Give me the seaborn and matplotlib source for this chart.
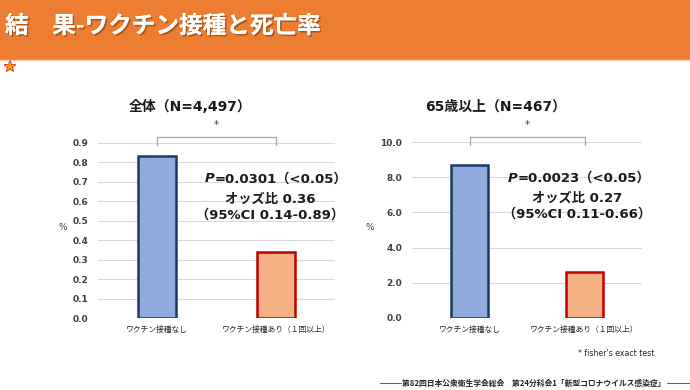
import matplotlib.pyplot as plt
import matplotlib.patheffects as pe
from matplotlib.patches import Rectangle
from matplotlib.lines import Line2D
import pandas as pd
import seaborn as sns

sns.set_style('white')
plt.rcParams['font.family'] = ['Noto Sans CJK JP', 'DejaVu Sans']
latin_first = ['DejaVu Sans', 'Noto Sans CJK JP']

# datos
cats = ['ワクチン接種なし', 'ワクチン接種あり（１回以上）']
rate_all = [0.83, 0.34]
rate_65 = [8.7, 2.6]
ticks_all = [0.0, 0.1, 0.2, 0.3, 0.4, 0.5, 0.6, 0.7, 0.8, 0.9]
ticks_65 = [0.0, 2.0, 4.0, 6.0, 8.0, 10.0]
titles = ['全体（N=4,497）', '65歳以上（N=467）']
p_txt = ['=0.0301（<0.05）', '=0.0023（<0.05）']
or_txt = ['オッズ比 0.36', 'オッズ比 0.27']
ci_txt = ['（95%CI 0.14-0.89）', '（95%CI 0.11-0.66）']

fill = ['#8FAADC', '#F4B183']
edge = ['#1F3864', '#C00000']

fig = plt.figure(figsize=(6.9, 3.9), dpi=100)

# cabecera naranja
fig.patches.append(Rectangle((0, 1 - 59 / 390), 1, 59 / 390, transform=fig.transFigure,
                             color='#ED7D31', zorder=0))
fig.lines.append(Line2D([0, 1], [1 - 60 / 390] * 2, transform=fig.transFigure,
                        color='#F8CBAD', lw=1))
fig.text(5 / 690, 1 - 26 / 390, '結　果-ワクチン接種と死亡率', color='white', fontsize=17,
         fontweight='bold', va='center', ha='left',
         path_effects=[pe.withSimplePatchShadow(offset=(1.2, -1.2), shadow_rgbFace='#7F3F10', alpha=0.6),
                       pe.Normal()])
fig.text(10 / 690, 1 - 67 / 390, '★', color='#FFA000', fontsize=10, ha='center', va='center',
         family=['DejaVu Sans'],
         path_effects=[pe.Stroke(linewidth=1.1, foreground='#E0301E'), pe.Normal()])

layout = [
    dict(rect=[98 / 690, 1 - 318 / 390, 237 / 690, 175.3 / 390], vals=rate_all, ticks=ticks_all,
         lab_x=-0.148, p_x=0.49, txt_x=0.726, title_x=190),
    dict(rect=[412 / 690, 1 - 317.7 / 390, 230 / 690, 175.4 / 390], vals=rate_65, ticks=ticks_65,
         lab_x=-0.183, p_x=0.46, txt_x=0.717, title_x=496),
]

for i, cfg in enumerate(layout):
    ax = fig.add_axes(cfg['rect'])
    df = pd.DataFrame({'cat': cats, 'val': cfg['vals']})
    sns.barplot(data=df, x='cat', y='val', hue='cat', palette=fill, width=0.32, saturation=1,
                legend=False, ax=ax, zorder=3)
    for patch, ec in zip(ax.patches, edge):
        patch.set_edgecolor(ec)
        patch.set_linewidth(1.8)
    top = cfg['ticks'][-1]
    ax.set_xlim(-0.5, 1.5)
    ax.set_ylim(0, top)
    ax.set_yticks(cfg['ticks'])
    ax.set_yticklabels(['{:.1f}'.format(t) for t in cfg['ticks']], fontsize=6.5,
                       fontweight='bold', color='#404040', family=latin_first)
    ax.tick_params(axis='x', labelsize=5.6, colors='#262626', length=0, pad=6)
    ax.tick_params(axis='y', length=0, pad=7)
    ax.grid(axis='y', color='#D9D9D9', lw=0.8, zorder=0)
    ax.set_axisbelow(True)
    sns.despine(ax=ax, left=True, bottom=True)
    ax.set_xlabel('')
    ax.set_ylabel('%', fontsize=6.5, rotation=0, color='#404040', family=latin_first)
    ax.yaxis.set_label_coords(cfg['lab_x'], 0.49)

    # corchete de significancia
    y_top = top * 1.032
    y_bot = top * 0.985
    ax.plot([0, 0, 1, 1], [y_bot, y_top, y_top, y_bot], color='#A6A6A6', lw=0.9, clip_on=False)
    ax.text(0.5, top * 1.07, '*', ha='center', va='bottom', fontsize=7.5, color='#404040',
            family=latin_first)

    # textos
    ax.text(cfg['p_x'], 0.793, 'P', transform=ax.transAxes, ha='right', va='center',
            fontsize=9.5, fontweight='bold', style='italic', color='#1A1A1A', family=latin_first)
    ax.text(cfg['p_x'], 0.793, p_txt[i], transform=ax.transAxes, ha='left', va='center',
            fontsize=9.5, fontweight='bold', color='#1A1A1A', family=latin_first)
    ax.text(cfg['txt_x'], 0.679, or_txt[i], transform=ax.transAxes, ha='center', va='center',
            fontsize=9.5, fontweight='bold', color='#1A1A1A', family=latin_first)
    ax.text(cfg['txt_x'], 0.588, ci_txt[i], transform=ax.transAxes, ha='center', va='center',
            fontsize=9.5, fontweight='bold', color='#1A1A1A', family=latin_first)

    fig.text(cfg['title_x'] / 690, 1 - 107 / 390, titles[i], ha='center', va='center',
             fontsize=10, fontweight='bold', color='#1A1A1A', family=latin_first)

# pie de pagina
fig.text(654 / 690, 1 - 353 / 390, "* fisher's exact test", ha='right', va='center',
         fontsize=5.6, color='#262626', family=latin_first)
fig.text(534 / 690, 1 - 383 / 390, '第82回日本公衆衛生学会総会　第24分科会1「新型コロナウイルス感染症」',
         ha='center', va='center', fontsize=5.6, fontweight='bold', color='#262626')
fig.lines.append(Line2D([380 / 690, 401 / 690], [1 - 383 / 390] * 2, transform=fig.transFigure,
                        color='#404040', lw=0.6))
fig.lines.append(Line2D([667 / 690, 690 / 690], [1 - 383 / 390] * 2, transform=fig.transFigure,
                        color='#404040', lw=0.6))

fig.savefig('out.png', dpi=100)
